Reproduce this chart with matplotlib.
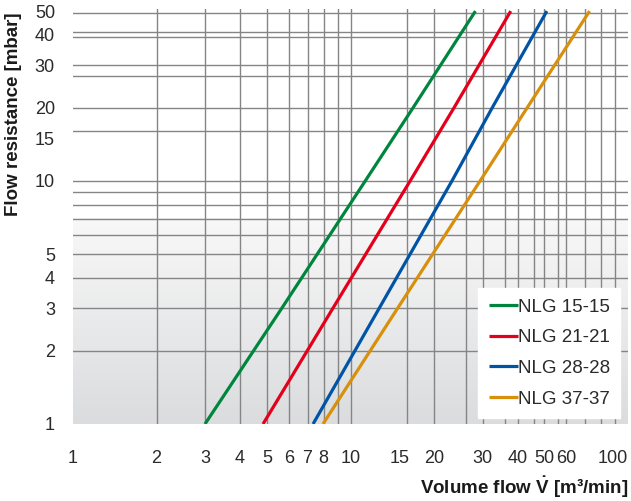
import matplotlib
matplotlib.use('Agg')
import matplotlib.pyplot as plt
import numpy as np
from matplotlib.colors import LinearSegmentedColormap

plt.rcParams['font.family'] = ['Liberation Sans', 'DejaVu Sans']
plt.rcParams['mathtext.fontset'] = 'custom'
plt.rcParams['mathtext.rm'] = 'Liberation Sans'
plt.rcParams['mathtext.bf'] = 'Liberation Sans:bold'

pressure = [1, 3, 10, 20, 50]
# volume flow [m3/min] per model at those pressures
flow_nlg15 = [2.99, 5.66, 11.3, 16.8, 28.2]
flow_nlg21 = [4.84, 8.65, 16.4, 23.6, 37.8]
flow_nlg28 = [7.33, 12.7, 23.2, 32.4, 51.0]
flow_nlg37 = [7.96, 14.8, 29.3, 43.3, 72.7]

series_names = ['NLG 15-15', 'NLG 21-21', 'NLG 28-28', 'NLG 37-37']
series_colors = ['#00853f', '#e3001b', '#0054a6', '#d8900c']

x_ticks = [1, 2, 3, 4, 5, 6, 7, 8, 10, 15, 20, 30, 40, 50, 60, 100]
y_ticks = [1, 2, 3, 4, 5, 10, 15, 20, 30, 40, 50]
x_grid = [2, 3, 4, 5, 6, 7, 8, 9, 10, 16, 20, 26, 30, 36, 40, 46, 50, 56, 60, 70, 80, 90]
y_grid = [2, 3, 4, 5, 6, 7, 8, 9, 10, 16, 20, 27, 30, 39, 41, 49]

W, H = 631, 501
left, right, bottom, top = 73 / W, 628 / W, 1 - 424 / H, 1 - 9 / H

fig = plt.figure(figsize=(W / 100, H / 100), dpi=100)

# grey gradient in the lower half of the plot area
grad_frac = 0.496
bg = fig.add_axes([left, bottom, right - left, (top - bottom) * grad_frac], zorder=0)
cmap = LinearSegmentedColormap.from_list('bg', ['#dbdcde', '#f8f8f8'])
bg.imshow(np.linspace(0, 1, 256).reshape(-1, 1), cmap=cmap, aspect='auto',
          origin='lower', extent=[0, 1, 0, 1])
bg.axis('off')

ax = fig.add_axes([left, bottom, right - left, top - bottom], zorder=1)
ax.set_facecolor('none')
ax.set_xscale('log')
ax.set_yscale('log')

for gx in x_grid:
    ax.axvline(gx, color='#858585', lw=1.0, zorder=1)
for gy in y_grid:
    ax.axhline(gy, color='#858585', lw=1.0, zorder=1)

for flows, name, col in zip([flow_nlg15, flow_nlg21, flow_nlg28, flow_nlg37],
                            series_names, series_colors):
    ax.plot(flows, pressure, color=col, lw=2.3, label=name, zorder=3,
            solid_capstyle='butt')

ax.set_xlim(1, 100)
ax.set_ylim(1, 51)

ax.set_xticks(x_ticks)
ax.set_xticklabels([str(v) for v in x_ticks])
ax.set_yticks(y_ticks)
ax.set_yticklabels([str(v) for v in y_ticks])
ax.minorticks_off()
ax.tick_params(axis='both', length=0, labelsize=13, labelcolor='#2a2a2a')
ax.tick_params(axis='x', pad=19)
ax.tick_params(axis='y', pad=13)
ax.get_xticklabels()[-1].set_horizontalalignment('right')
for s in ax.spines.values():
    s.set_visible(False)

leg = ax.legend(loc='lower right', bbox_to_anchor=(0.9856, 0.0145), borderaxespad=0,
                fontsize=13.5, frameon=True, fancybox=False, framealpha=1,
                edgecolor='white', facecolor='white', handlelength=1.55,
                handletextpad=0.0, labelspacing=0.72, borderpad=0.55)
leg.set_zorder(5)
for t in leg.get_texts():
    t.set_color('#2a2a2a')

fig.text(14 / W, 1 - 114 / H, 'Flow resistance [mbar]', rotation=90, ha='center',
         va='center', fontsize=13.5, fontweight='bold', color='#1a1a1a')
fig.text(628 / W, 1 - 487 / H, 'Volume flow $\\mathbf{\\dot{V}}$ [m\u00b3/min]', ha='right',
         va='center', fontsize=13.5, fontweight='bold', color='#1a1a1a')

fig.savefig('out.png', dpi=100)
